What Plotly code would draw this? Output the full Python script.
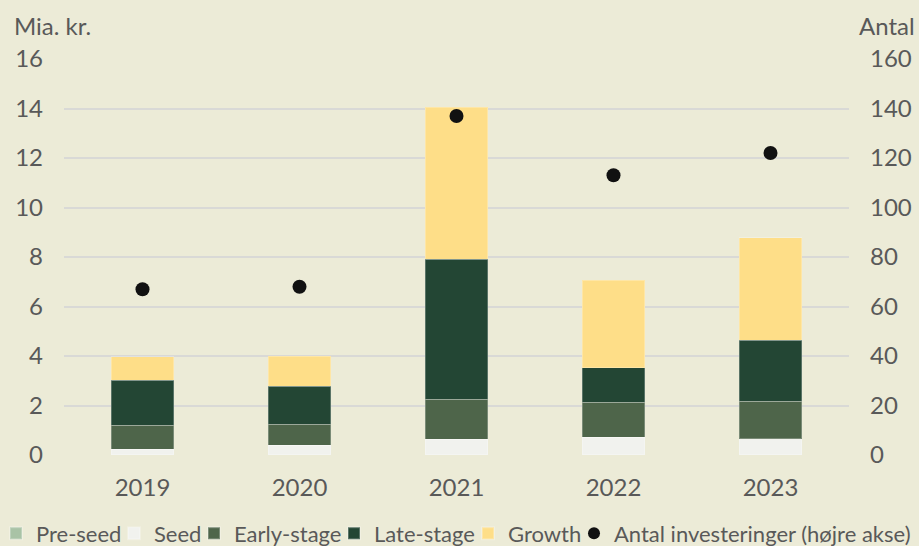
import plotly.graph_objects as go

years = ["2019", "2020", "2021", "2022", "2023"]
pre_seed = [0.02, 0.02, 0.02, 0.02, 0.02]
seed = [0.21, 0.37, 0.61, 0.69, 0.64]
early_stage = [0.98, 0.86, 1.63, 1.43, 1.51]
late_stage = [1.81, 1.53, 5.65, 1.38, 2.46]
growth = [0.95, 1.22, 6.15, 3.55, 4.14]
antal = [67, 68, 137, 113, 122]

BG = "#ECEBD7"
FONT = "Lato"
TXT = "#595959"

# plot area in pixels
PL, PR, PT, PB = 64, 849, 59, 455
PW, PH = PR - PL, PB - PT

def px_x(p):
    return (p - PL) / PW

def px_y(p):
    return (PB - p) / PH

fig = go.Figure()
series = [
    ("Pre-seed", pre_seed, "#A9C3A6"),
    ("Seed", seed, "#F1F2EE"),
    ("Early-stage", early_stage, "#4E654A"),
    ("Late-stage", late_stage, "#234634"),
    ("Growth", growth, "#FEDE88"),
]
legend_ids = ["legend", "legend2", "legend3", "legend4", "legend5", "legend6"]
text_starts = [36, 154, 234, 374, 508, 614]

for (name, vals, col), lid in zip(series, legend_ids):
    fig.add_trace(go.Bar(x=years, y=vals, name=name, marker_color=col, legend=lid,
                         marker_line=dict(color="rgba(255,255,255,0.25)", width=1)))

fig.add_trace(go.Scatter(x=years, y=antal, name="Antal investeringer (højre akse)",
                         mode="markers", yaxis="y2", legend="legend6",
                         marker=dict(color="#111111", size=14)))

legend_cfg = {}
for lid, ts in zip(legend_ids, text_starts):
    legend_cfg[lid] = dict(
        orientation="h", x=px_x(ts - 40), xanchor="left",
        y=px_y(533.5), yanchor="middle",
        font=dict(family=FONT, size=22, color=TXT), itemwidth=30,
        bgcolor="rgba(0,0,0,0)", borderwidth=0, itemsizing="constant",
    )

fig.update_layout(
    barmode="stack",
    bargap=0.6,
    width=919, height=546,
    margin=dict(l=PL, r=919 - PR, t=PT, b=546 - PB, autoexpand=False),
    paper_bgcolor=BG, plot_bgcolor=BG,
    font=dict(family=FONT, size=24, color=TXT),
    showlegend=True,
    xaxis=dict(showgrid=False, showline=False, ticks="", ticklabelstandoff=16,
               tickfont=dict(size=24, color=TXT)),
    yaxis=dict(range=[0, 16], dtick=2, showgrid=True, gridcolor="#D9D9D6", gridwidth=2,
               zeroline=False, ticks="", ticklabelstandoff=20,
               tickfont=dict(size=24, color=TXT)),
    yaxis2=dict(range=[0, 160], dtick=20, overlaying="y", side="right", showgrid=False,
                zeroline=False, ticks="", ticklabelstandoff=20,
                tickfont=dict(size=24, color=TXT)),
    annotations=[
        dict(text="Mia. kr.", xref="paper", yref="paper", x=px_x(12), y=px_y(25),
             xanchor="left", yanchor="middle", showarrow=False,
             font=dict(size=24, color=TXT)),
        dict(text="Antal", xref="paper", yref="paper", x=px_x(917), y=px_y(25),
             xanchor="right", yanchor="middle", showarrow=False,
             font=dict(size=24, color=TXT)),
    ],
    **legend_cfg,
)

fig.write_html("out.html", config={"displayModeBar": False},
               post_script="document.body.style.margin='0';document.body.style.padding='0';")
